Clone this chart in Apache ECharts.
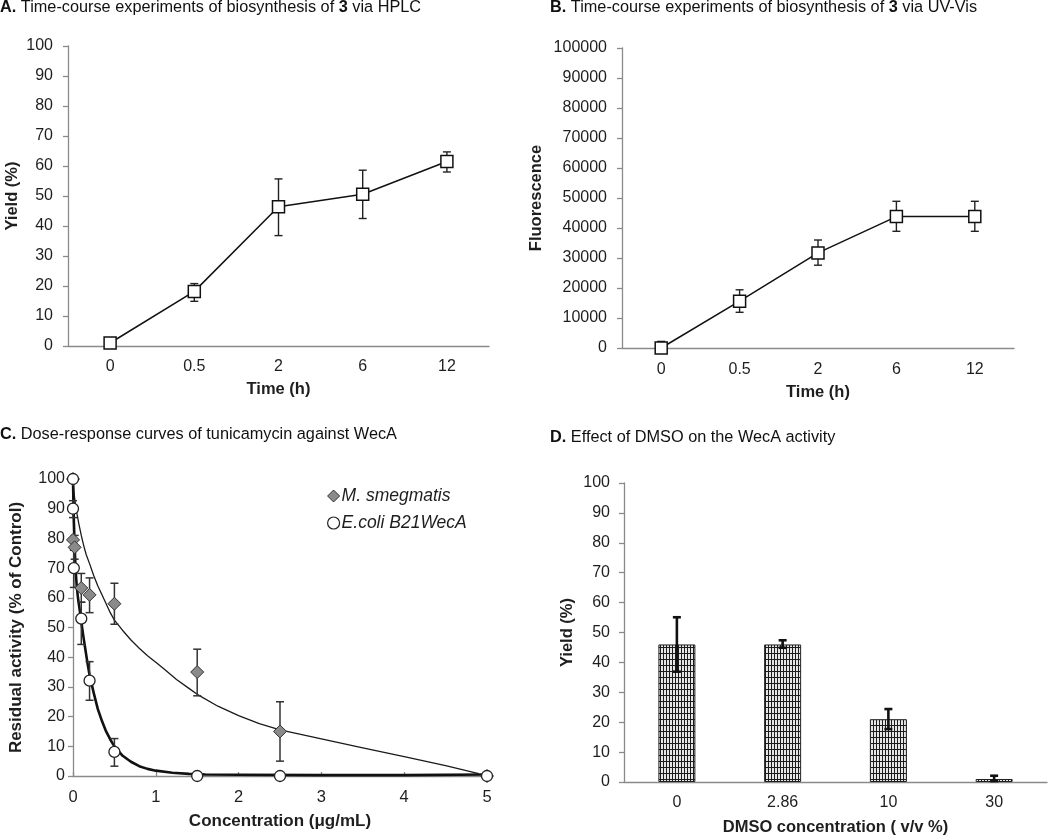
<!DOCTYPE html>
<html>
<head>
<meta charset="utf-8">
<script src="https://cdn.jsdelivr.net/npm/echarts@6/dist/echarts.min.js"></script>
<style>
html,body{margin:0;padding:0;background:#fff;}
#chart{width:1050px;height:837px;}
</style>
</head>
<body>
<div id="chart"></div>
<script>
// ---------- DATA ----------
// Panel A (HPLC)
const timeCats = ['0', '0.5', '2', '6', '12'];
const hplcYield = [1, 18.2, 46.4, 50.6, 61.5];
const hplcLow = [1, 14.9, 36.8, 42.5, 58.0];
const hplcHigh = [1, 20.8, 55.7, 58.6, 64.7];
// Panel B (UV-Vis)
const uvFluor = [0, 15600, 31700, 43800, 43800];
const uvLow = [0, 11900, 27600, 38900, 38900];
const uvHigh = [2200, 19400, 36000, 48900, 48900];
// Panel C (dose-response)
const smegX = [0, 0, 0.02, 0.1, 0.2, 0.5, 1.5, 2.5, 5];
const smegY = [100, 79.5, 77, 63.3, 61, 58, 35, 15, 0];
const smegLow = [100, 79.5, 73, 58.5, 55, 51.1, 27, 5, 0];
const smegHigh = [100, 79.5, 81, 68.2, 66.7, 64.9, 42.7, 25, 0];
const ecoliX = [0, 0, 0.01, 0.1, 0.2, 0.5, 1.5, 2.5, 5];
const ecoliY = [100, 90, 70, 53, 32.1, 8.1, 0, 0, 0];
const ecoliLow = [100, 87, 63.5, 44.3, 25.5, 3.3, 0, 0, 0];
const ecoliHigh = [100, 92.7, 76, 58.5, 38.5, 12.6, 0, 0, 0];
const smegFitX = [0, 0.01, 0.02, 0.03, 0.05, 0.07, 0.1, 0.13, 0.16, 0.2, 0.25, 0.3, 0.35, 0.4, 0.45, 0.5, 0.6, 0.7, 0.8, 0.9, 1.0, 1.1, 1.25, 1.4, 1.5, 1.75, 2.0, 2.25, 2.5, 2.75, 3.0, 3.5, 4.0, 4.5, 4.9];
const smegFitY = [100, 96, 93.5, 91.5, 88, 85, 81, 77.5, 74.5, 71.5, 67.5, 64, 61, 58, 55, 52.5, 49, 45.8, 43, 40.5, 38.3, 36, 32.5, 29.5, 27.5, 23.5, 20.3, 17.6, 15.5, 14, 12.5, 9.5, 6.5, 3.5, 0.8];
const ecoliFitX = [0, 0.005, 0.01, 0.02, 0.03, 0.045, 0.06, 0.08, 0.1, 0.125, 0.15, 0.175, 0.2, 0.25, 0.3, 0.35, 0.4, 0.45, 0.5, 0.6, 0.7, 0.8, 0.9, 1.0, 1.2, 1.4, 1.6, 2, 3, 4, 5];
const ecoliFitY = [100, 92, 86, 77.5, 70, 64, 60, 56, 52, 47, 42.5, 38, 34, 28, 22.5, 18.5, 15, 12.3, 10, 6.8, 4.8, 3.3, 2.4, 1.8, 1.1, 0.7, 0.5, 0.4, 0.3, 0.3, 0.5];
// Panel D (DMSO)
const dmsoCats = ['0', '2.86', '10', '30'];
const dmsoYield = [46, 46, 21, 1];
const dmsoLow = [36.9, 44.9, 17.7, 0.3];
const dmsoHigh = [55.1, 47.4, 24.4, 2.1];

// ---------- STYLE HELPERS ----------
const FF = '"Liberation Sans", Arial, Helvetica, sans-serif';
const AX = '#8a8a8a';
const TXT = '#1e1e1e';
const TICKFS = 16;

function zip3(a, b, c) { return a.map((v, i) => [v, b[i], c[i]]); }
function idxErr(lo, hi) { return lo.map((v, i) => [i, v, hi[i]]); }

function errSeries(gi, data, cap, lw, color, z) {
  return {
    type: 'custom', xAxisIndex: gi, yAxisIndex: gi, z: z || 2, silent: true,
    data: data,
    encode: { x: 0, y: [1, 2] },
    renderItem: function (params, api) {
      const x = api.value(0), lo = api.value(1), hi = api.value(2);
      if (lo === hi) return null;
      const a = api.coord([x, hi]);
      const b = api.coord([x, lo]);
      const st = { stroke: color, lineWidth: lw };
      return {
        type: 'group', children: [
          { type: 'line', shape: { x1: a[0], y1: a[1], x2: b[0], y2: b[1] }, style: st },
          { type: 'line', shape: { x1: a[0] - cap, y1: a[1], x2: a[0] + cap, y2: a[1] }, style: st },
          { type: 'line', shape: { x1: b[0] - cap, y1: b[1], x2: b[0] + cap, y2: b[1] }, style: st }
        ]
      };
    }
  };
}

function makePattern() {
  const c = document.createElement('canvas');
  c.width = 3; c.height = 6;
  const g = c.getContext('2d');
  g.fillStyle = '#1c1c1c'; g.fillRect(0, 0, 3, 6);
  g.fillStyle = '#e6e6e6'; g.fillRect(1, 0, 2, 5);
  return c;
}

function titleOpt(text, left, top) {
  return {
    text: text, left: left, top: top, padding: 0,
    textStyle: {
      fontFamily: FF, fontSize: 16.3, fontWeight: 'normal', color: '#111',
      rich: { b: { fontFamily: FF, fontSize: 16.3, fontWeight: 'bold', color: '#111' } }
    }
  };
}

function catX(gi, cats, name, gap, lm) {
  return {
    type: 'category', gridIndex: gi, data: cats,
    name: name, nameLocation: 'middle', nameGap: gap,
    nameTextStyle: { fontFamily: FF, fontSize: 16.5, fontWeight: 'bold', color: TXT },
    axisLine: { lineStyle: { color: AX, width: 1.3 } },
    axisTick: { show: false },
    axisLabel: { fontFamily: FF, fontSize: TICKFS, color: TXT, margin: lm }
  };
}
function valY(gi, max, interval, name, gap, fs, lm) {
  return {
    type: 'value', gridIndex: gi, min: 0, max: max, interval: interval,
    name: name, nameLocation: 'middle', nameGap: gap,
    nameTextStyle: { fontFamily: FF, fontSize: fs, fontWeight: 'bold', color: TXT },
    axisLine: { show: true, lineStyle: { color: AX, width: 1.3 } },
    axisTick: { show: true, length: 5, lineStyle: { color: AX, width: 1.3 } },
    splitLine: { show: false },
    axisLabel: { fontFamily: FF, fontSize: TICKFS, color: TXT, margin: lm, formatter: function (v) { return String(v); } }
  };
}

const chart = echarts.init(document.getElementById('chart'), null, { renderer: 'canvas' });

const pattern = makePattern();

const smegData = smegX.map((x, i) => {
  const end = (smegY[i] === 100 || smegY[i] === 0);
  return end ? { value: [x, smegY[i]], itemStyle: { color: '#fff' } } : [x, smegY[i]];
});

const option = {
  backgroundColor: '#fff',
  animation: false,
  title: [
    titleOpt('{b|A.} Time-course experiments of biosynthesis of {b|3} via HPLC', 0, 0),
    titleOpt('{b|B.} Time-course experiments of biosynthesis of {b|3} via UV-Vis', 550, 0),
    titleOpt('{b|C.} Dose-response curves of tunicamycin against WecA', 0, 427),
    titleOpt('{b|D.} Effect of DMSO on the WecA activity', 550, 430)
  ],
  legend: {
    orient: 'vertical', left: 322, top: 482, itemGap: 9,
    itemWidth: 12, itemHeight: 12,
    textStyle: { fontFamily: FF, fontSize: 17.5, fontStyle: 'italic', color: TXT, padding: [0, 0, 0, -3] },
    data: [
      { name: 'M. smegmatis', icon: 'diamond', itemStyle: { color: '#8a8a8a', borderColor: '#333', borderWidth: 1 } },
      { name: 'E.coli B21WecA', icon: 'circle', itemStyle: { color: '#fff', borderColor: '#222', borderWidth: 1.2 } }
    ]
  },
  grid: [
    { left: 68, top: 46, width: 421, height: 300 },
    { left: 622, top: 48, width: 392, height: 300 },
    { left: 73, top: 479, width: 414, height: 297 },
    { left: 624, top: 483, width: 423, height: 300 }
  ],
  xAxis: [
    catX(0, timeCats, 'Time (h)', 35, 13),
    catX(1, timeCats, 'Time (h)', 36, 14),
    {
      type: 'value', gridIndex: 2, min: 0, max: 5, interval: 1,
      name: 'Concentration (μg/mL)', nameLocation: 'middle', nameGap: 37,
      nameTextStyle: { fontFamily: FF, fontSize: 17, fontWeight: 'bold', color: TXT },
      axisLine: { lineStyle: { color: AX, width: 1.3 } },
      axisTick: { show: true, inside: true, length: 4, lineStyle: { color: AX, width: 1.3 } },
      splitLine: { show: false },
      axisLabel: { fontFamily: FF, fontSize: 16.5, color: TXT, margin: 13 }
    },
    catX(3, dmsoCats, 'DMSO concentration ( v/v %)', 37, 13)
  ],
  yAxis: [
    valY(0, 100, 10, 'Yield (%)', 47, 16.5, 15),
    valY(1, 100000, 10000, 'Fluorescence', 77, 16.5, 15),
    valY(2, 100, 10, 'Residual activity (% of Control)', 48, 17, 8),
    valY(3, 100, 10, 'Yield (%)', 48, 16.5, 14)
  ],
  series: [
    // Panel A
    errSeries(0, idxErr(hplcLow, hplcHigh), 4, 1.4, '#222', 2),
    {
      type: 'line', xAxisIndex: 0, yAxisIndex: 0, data: hplcYield, z: 3,
      symbol: 'rect', symbolSize: 12, showAllSymbol: true,
      lineStyle: { color: '#111', width: 1.5 },
      itemStyle: { color: '#fff', borderColor: '#111', borderWidth: 1.5 }
    },
    // Panel B
    errSeries(1, idxErr(uvLow, uvHigh), 4, 1.4, '#222', 2),
    {
      type: 'line', xAxisIndex: 1, yAxisIndex: 1, data: uvFluor, z: 3,
      symbol: 'rect', symbolSize: 12, showAllSymbol: true,
      lineStyle: { color: '#111', width: 1.5 },
      itemStyle: { color: '#fff', borderColor: '#111', borderWidth: 1.5 }
    },
    // Panel C
    {
      type: 'line', name: 'smeg fit', xAxisIndex: 2, yAxisIndex: 2, z: 2,
      data: smegFitX.map((x, i) => [x, smegFitY[i]]),
      smooth: false, showSymbol: false, symbol: 'none',
      lineStyle: { color: '#1a1a1a', width: 1.3, join: 'round' }
    },
    {
      type: 'line', name: 'ecoli fit', xAxisIndex: 2, yAxisIndex: 2, z: 2,
      data: ecoliFitX.map((x, i) => [x, ecoliFitY[i]]),
      smooth: false, showSymbol: false, symbol: 'none',
      lineStyle: { color: '#111', width: 2.6, join: 'round' }
    },
    errSeries(2, zip3(smegX, smegLow, smegHigh), 4, 1.5, '#333', 3),
    errSeries(2, zip3(ecoliX, ecoliLow, ecoliHigh), 4, 1.5, '#333', 3),
    {
      type: 'scatter', name: 'M. smegmatis', xAxisIndex: 2, yAxisIndex: 2, z: 4,
      data: smegData, symbol: 'diamond', symbolSize: 13,
      itemStyle: { color: '#8a8a8a', borderColor: '#333', borderWidth: 1, opacity: 1 }
    },
    {
      type: 'scatter', name: 'E.coli B21WecA', xAxisIndex: 2, yAxisIndex: 2, z: 5,
      data: ecoliX.map((x, i) => [x, ecoliY[i]]), symbol: 'circle', symbolSize: 11,
      itemStyle: { color: '#fff', borderColor: '#222', borderWidth: 1.3, opacity: 1 }
    },
    // Panel D
    {
      type: 'bar', xAxisIndex: 3, yAxisIndex: 3, data: dmsoYield, barWidth: 37, z: 2,
      itemStyle: { color: { image: pattern, repeat: 'repeat' }, borderColor: '#222', borderWidth: 1 }
    },
    errSeries(3, idxErr(dmsoLow, dmsoHigh), 4, 2.6, '#111', 4)
  ]
};
chart.setOption(option);
</script>
</body>
</html>
